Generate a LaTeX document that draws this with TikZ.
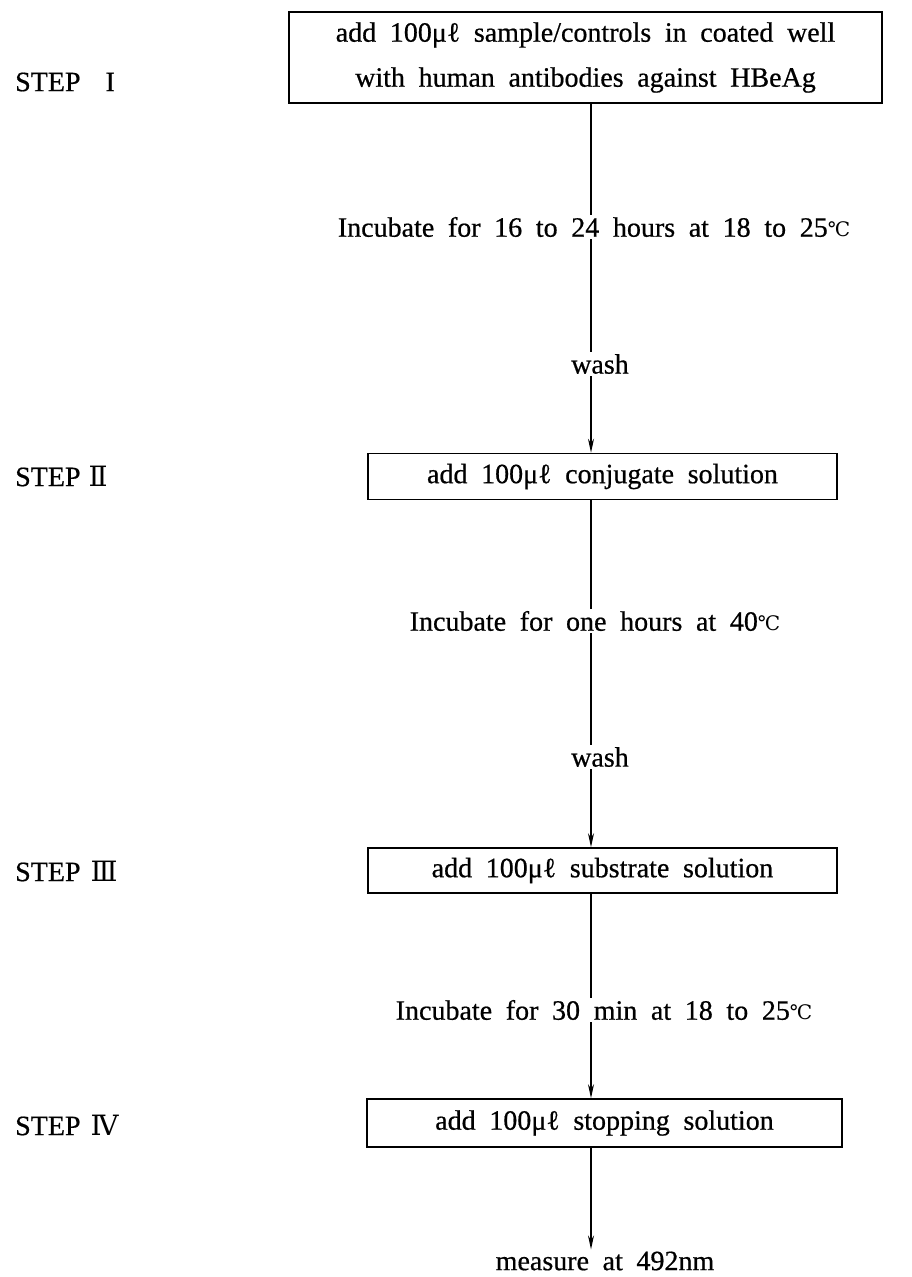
\documentclass[tikz,border=0pt]{standalone}
\usepackage{fontspec}
\setmainfont{Liberation Serif}[WordSpace={1.95},FakeBold=0.6]
\newfontfamily\symf{DejaVu Serif}
\usetikzlibrary{arrows.meta}
\newcommand{\degC}{{\symf\fontsize{20}{22}\selectfont ℃}}
\newcommand{\rn}[1]{{\symf #1}}
\begin{document}
\begin{tikzpicture}[x=1pt,y=-1pt,
  font=\fontsize{28}{30}\selectfont,
  box/.style={draw, line width=1.6pt, inner sep=0pt, align=center},
  lbl/.style={inner sep=2pt},
  steplbl/.style={anchor=west, inner sep=0pt},
  conn/.style={line width=1.2pt},
  arr/.style={line width=1.2pt, -{Stealth[length=14pt,width=6pt]}}]
\useasboundingbox (0,0) rectangle (911,1277);
\coordinate (ax) at (591,0);
% boxes
\node[box, minimum width=593pt, minimum height=91pt] (b1) at (585.5,57.5)
  {add 100μℓ sample/controls in coated well\\[15pt]with human antibodies against HBeAg};
\node[box, minimum width=469pt, minimum height=46pt] (b2) at (602.5,476.5) {add 100μℓ conjugate solution};
\node[box, minimum width=469pt, minimum height=45pt] (b3) at (602.5,870.5) {add 100μℓ substrate solution};
\node[box, minimum width=475pt, minimum height=48pt] (b4) at (604.5,1123) {add 100μℓ stopping solution};
% labels on the arrows
\node[lbl] (i1) at (594,227) {Incubate for 16 to 24 hours at 18 to 25\degC};
\node[lbl] (w1) at (600,364) {wash};
\node[lbl] (i2) at (595,621) {Incubate for one hours at 40\degC};
\node[lbl] (w2) at (600,757) {wash};
\node[lbl] (i3) at (604,1010) {Incubate for 30 min at 18 to 25\degC};
\node[lbl] (m) at (605,1261) {measure at 492nm};
% step labels
\node[steplbl] (s1) at (15,82) {STEP\hspace{25pt}I};
\node[steplbl] (s2) at (15,476) {STEP\hspace{8pt}\rn{Ⅱ}};
\node[steplbl] (s3) at (15,871) {STEP\hspace{10pt}\rn{Ⅲ}};
\node[steplbl] (s4) at (15,1125) {STEP\hspace{10pt}\rn{Ⅳ}};
% connectors
\draw[conn] (b1.south -| ax) -- (i1.north -| ax);
\draw[conn] (i1.south -| ax) -- (w1.north -| ax);
\draw[arr] (w1.south -| ax) -- (b2.north -| ax);
\draw[conn] (b2.south -| ax) -- (i2.north -| ax);
\draw[conn] (i2.south -| ax) -- (w2.north -| ax);
\draw[arr] (w2.south -| ax) -- (b3.north -| ax);
\draw[conn] (b3.south -| ax) -- (i3.north -| ax);
\draw[arr] (i3.south -| ax) -- (b4.north -| ax);
\draw[arr] (b4.south -| ax) -- (m.north -| ax);
\end{tikzpicture}
\end{document}
